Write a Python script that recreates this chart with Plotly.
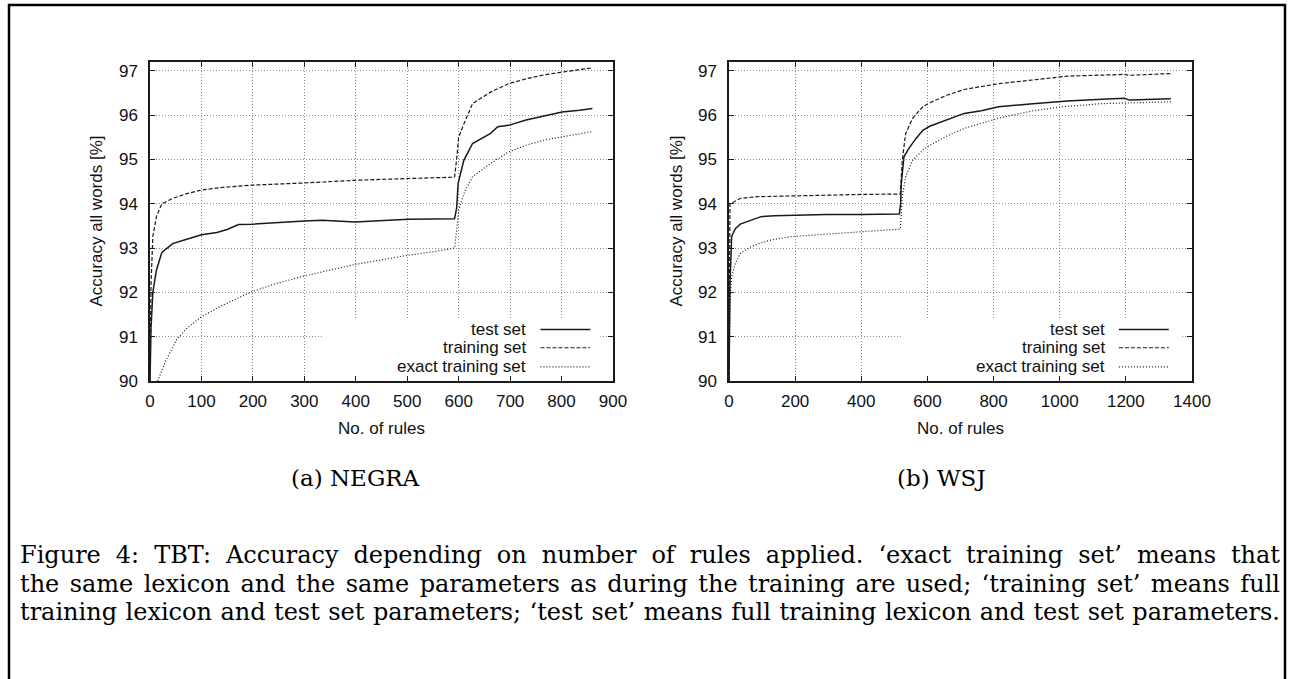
import plotly.graph_objects as go

W, H = 1295, 679

# ---------------- data ----------------
negra_test_x = [0, 2, 5.5, 12.5, 23, 44, 71.5, 100, 130, 150, 172, 197, 300, 335, 398, 433, 502, 592,
                596, 599, 610, 627, 662, 676, 697, 731, 766, 801, 835, 860]
negra_test_y = [90.0, 91.2, 92.0, 92.5, 92.9, 93.1, 93.2, 93.3, 93.35, 93.42, 93.53, 93.54, 93.61, 93.63,
                93.59, 93.61, 93.65, 93.66, 93.9, 94.46, 94.98, 95.36, 95.59, 95.74, 95.77, 95.89, 95.98,
                96.07, 96.11, 96.15]

negra_train_x = [0, 2, 5.5, 12.5, 23, 44, 71.5, 100, 141, 197, 300, 398, 502, 592, 596, 600, 610, 627,
                 662, 697, 731, 766, 801, 835, 860]
negra_train_y = [90.0, 92.2, 93.26, 93.71, 94.0, 94.12, 94.23, 94.31, 94.37, 94.42, 94.47, 94.53, 94.57,
                 94.6, 95.0, 95.5, 95.8, 96.26, 96.52, 96.71, 96.82, 96.91, 96.97, 97.03, 97.07]

negra_exact_x = [15, 30, 51, 71.5, 100, 141, 197, 245, 300, 350, 398, 453, 502, 558, 592, 596, 600, 605,
                 613, 627, 662, 697, 731, 766, 801, 835, 860]
negra_exact_y = [90.0, 90.44, 90.92, 91.19, 91.45, 91.71, 92.01, 92.2, 92.37, 92.5, 92.63, 92.74, 92.84,
                 92.93, 93.0, 93.4, 93.85, 94.05, 94.31, 94.61, 94.91, 95.17, 95.32, 95.44, 95.51, 95.57,
                 95.63]

wsj_test_x = [0, 1, 3, 8, 19, 34, 66, 97, 138, 190, 295, 399, 515, 519, 521, 529, 544, 565, 586, 607,
              659, 711, 763, 815, 919, 1023, 1127, 1195, 1211, 1336]
wsj_test_y = [90.0, 91.5, 92.2, 93.26, 93.44, 93.54, 93.63, 93.71, 93.73, 93.74, 93.76, 93.76, 93.77,
              94.0, 94.46, 95.06, 95.25, 95.47, 95.66, 95.75, 95.89, 96.04, 96.1, 96.19, 96.26, 96.32,
              96.36, 96.38, 96.34, 96.37]

wsj_train_x = [0, 1, 3, 14, 34, 86, 190, 295, 399, 518, 521, 524, 534, 555, 586, 607, 659, 711, 815,
               919, 1023, 1195, 1211, 1336]
wsj_train_y = [90.0, 92.5, 94.0, 94.04, 94.12, 94.16, 94.18, 94.19, 94.21, 94.22, 94.6, 94.98, 95.58,
               95.93, 96.19, 96.28, 96.45, 96.58, 96.71, 96.8, 96.88, 96.92, 96.9, 96.94]

wsj_exact_x = [0, 1, 3, 8, 19, 34, 66, 97, 138, 190, 295, 399, 518, 521, 524, 534, 555, 586, 607, 659,
               711, 815, 919, 1023, 1127, 1336]
wsj_exact_y = [90.0, 91.0, 91.83, 92.35, 92.65, 92.88, 93.03, 93.12, 93.2, 93.26, 93.32, 93.37, 93.43,
               93.8, 94.16, 94.61, 94.98, 95.21, 95.32, 95.53, 95.7, 95.93, 96.1, 96.2, 96.26, 96.3]

series_names = ["test set", "training set", "exact training set"]
x_ticks_negra = [0, 100, 200, 300, 400, 500, 600, 700, 800, 900]
x_ticks_wsj = [0, 200, 400, 600, 800, 1000, 1200, 1400]
y_ticks = [90, 91, 92, 93, 94, 95, 96, 97]
x_title = "No. of rules"
y_title = "Accuracy all words [%]"
sub_captions = ["(a) NEGRA", "(b) WSJ"]
caption_lines = [
    "Figure 4: TBT: Accuracy depending on number of rules applied. \u2018exact training set\u2019 means that",
    "the same lexicon and the same parameters as during the training are used; \u2018training set\u2019 means full",
    "training lexicon and test set parameters; \u2018test set\u2019 means full training lexicon and test set parameters.",
]

# ---------------- styling ----------------
SANS = "Liberation Sans, Arial, sans-serif"
SERIF = "DejaVu Serif, Liberation Serif, serif"
INK = "#1a1a1a"
dashes = ["solid", "4px,2px", "1px,2px"]
widths = [1.5, 1.2, 1.2]
CAP_LEFT, CAP_RIGHT = 19, 1279


def px(x):
    return x / W


def py(y):
    return 1 - y / H


fig = go.Figure()

panels = [
    dict(xa="x", ya="y", data=[(negra_test_x, negra_test_y), (negra_train_x, negra_train_y),
                               (negra_exact_x, negra_exact_y)],
         left=150, right=613, xmax=900, ticks=x_ticks_negra,
         box=(336, 875), text_end=735, samp=(759, 856), ylab_x=96, sub_x=355),
    dict(xa="x2", ya="y2", data=[(wsj_test_x, wsj_test_y), (wsj_train_x, wsj_train_y),
                                 (wsj_exact_x, wsj_exact_y)],
         left=729, right=1192, xmax=1400, ticks=x_ticks_wsj,
         box=(523, 1369), text_end=1143, samp=(1179, 1330), ylab_x=676, sub_x=942),
]

top, bottom = 62, 381
legend_y = [91.16, 90.75, 90.32]

shapes = []
annotations = []

for i, p in enumerate(panels):
    for (xs, ys), name, dash, wd in zip(p["data"], series_names, dashes, widths):
        fig.add_trace(go.Scatter(x=xs, y=ys, mode="lines", name=name, xaxis=p["xa"], yaxis=p["ya"],
                                 line=dict(color=INK, width=wd, dash=dash), showlegend=False))
    sfx = "" if i == 0 else "2"
    axis_common = dict(showline=True, linecolor=INK, linewidth=1.5, mirror="ticks", ticks="inside",
                       ticklen=5, tickwidth=1, tickcolor=INK, showgrid=True, gridcolor="#8c8c8c",
                       gridwidth=1, griddash="1px,2px", zeroline=False, automargin=False,
                       tickfont=dict(family=SANS, size=17, color="#111"))
    fig.update_layout(**{
        "xaxis" + sfx: dict(axis_common, domain=[px(p["left"]), px(p["right"])], range=[0, p["xmax"]],
                            tickvals=p["ticks"], anchor="y" + sfx, ticklabelstandoff=4),
        "yaxis" + sfx: dict(axis_common, domain=[py(bottom), py(top)], range=[90, 97.2],
                            tickvals=y_ticks, anchor="x" + sfx, ticklabelstandoff=7),
    })
    xr = p["xa"]
    yr = p["ya"]
    # white key box that interrupts the grid, as gnuplot does
    shapes.append(dict(type="rect", xref=xr, yref=yr, x0=p["box"][0], x1=p["box"][1], y0=90.12, y1=91.4,
                       fillcolor="white", line=dict(width=0), layer="between"))
    for name, dash, wd, ly in zip(series_names, dashes, widths, legend_y):
        annotations.append(dict(xref=xr, yref=yr, x=p["text_end"], y=ly, text=name, showarrow=False,
                                xanchor="right", yanchor="middle",
                                font=dict(family=SANS, size=17, color="#111")))
        shapes.append(dict(type="line", xref=xr, yref=yr, x0=p["samp"][0], x1=p["samp"][1], y0=ly, y1=ly,
                           line=dict(color=INK, width=wd, dash=dash), layer="above"))
    annotations.append(dict(xref="paper", yref="paper", x=px((p["left"] + p["right"]) / 2), y=py(428),
                            text=x_title, showarrow=False, xanchor="center", yanchor="middle",
                            font=dict(family=SANS, size=17, color="#111")))
    annotations.append(dict(xref="paper", yref="paper", x=px(p["ylab_x"]), y=py((top + bottom) / 2),
                            text=y_title, showarrow=False, textangle=-90, xanchor="center",
                            yanchor="middle", font=dict(family=SANS, size=17, color="#111")))
    annotations.append(dict(xref="paper", yref="paper", x=px(p["sub_x"]), y=py(478), text=sub_captions[i],
                            showarrow=False, xanchor="center", yanchor="middle",
                            font=dict(family=SERIF, size=23, color="#000")))

for k, line in enumerate(caption_lines):
    annotations.append(dict(xref="paper", yref="paper", x=px(CAP_LEFT), y=py(555 + 28.5 * k), text=line,
                            showarrow=False, xanchor="left", yanchor="middle", align="left", borderpad=0,
                            font=dict(family=SERIF, size=24, color="#000")))

# outer frame (open at the bottom of the picture)
shapes.append(dict(type="rect", xref="paper", yref="paper", x0=px(9), x1=px(1285), y0=-0.05, y1=py(5),
                   line=dict(color="black", width=2.5), fillcolor="rgba(0,0,0,0)", layer="above"))

fig.update_layout(template="none", width=W, height=H, autosize=False,
                  margin=dict(l=0, r=0, t=0, b=0, pad=0, autoexpand=False),
                  paper_bgcolor="white", plot_bgcolor="white", shapes=shapes, annotations=annotations,
                  showlegend=False)

# page set-up (no margins / scrolling) and full justification of the caption lines, like LaTeX
post = (
    "document.documentElement.style.cssText='margin:0;padding:0;width:100%;height:100%;overflow:hidden';"
    "document.body.style.cssText='margin:0;padding:0;width:100%;height:100%;overflow:hidden';"
    "var gd=document.getElementById('{plot_id}');"
    "gd.style.position='fixed';gd.style.left='0px';gd.style.top='0px';"
    "var target=" + str(CAP_RIGHT - CAP_LEFT) + ";"
    "gd.querySelectorAll('text.annotation-text').forEach(function(t){"
    "  var s=t.textContent;"
    "  if(s.indexOf('Figure 4')===0||s.indexOf('the same lexicon')===0||s.indexOf('training lexicon and')===0){"
    "    var n=(s.match(/ /g)||[]).length; var w=t.getComputedTextLength();"
    "    if(n>0){t.style.wordSpacing=((target-w)/n)+'px';}"
    "  }"
    "});"
)

fig.write_html("out.html", config={"displayModeBar": False}, post_script=post)
